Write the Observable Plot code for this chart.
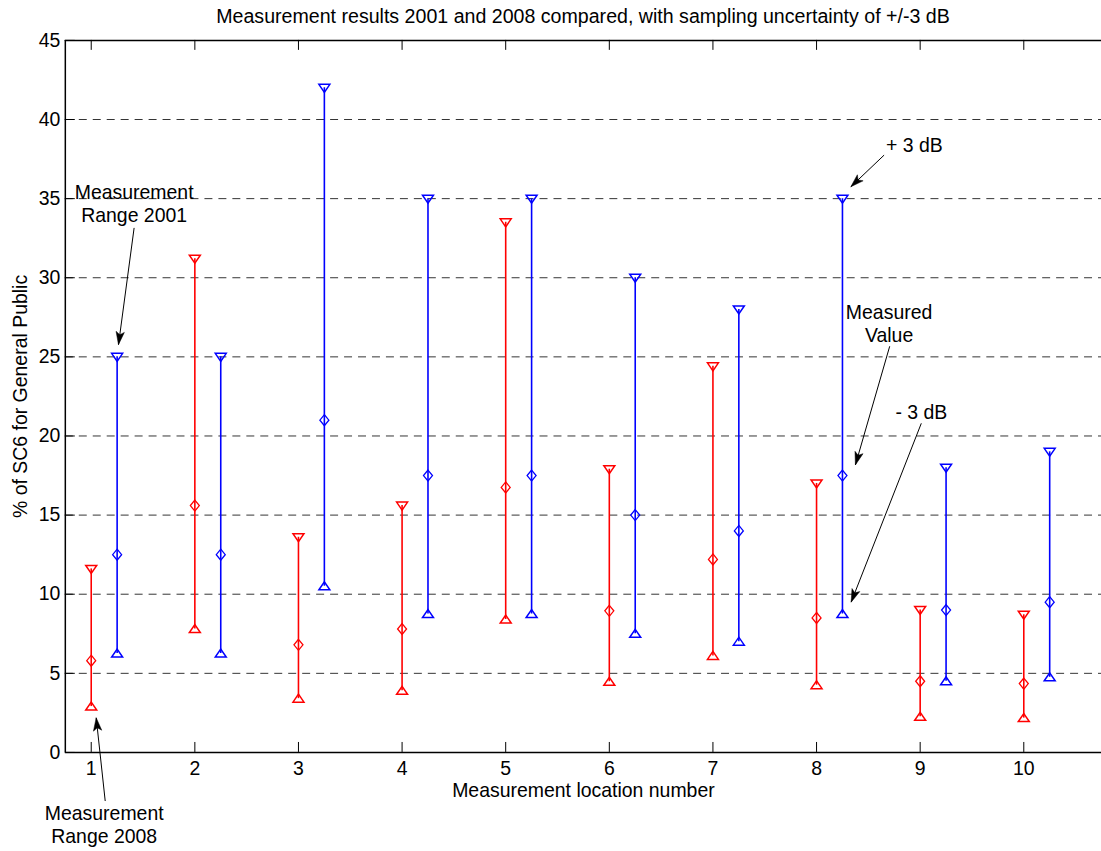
<!DOCTYPE html>
<html><head><meta charset="utf-8">
<script src="https://cdn.jsdelivr.net/npm/d3@7"></script>
<script src="https://cdn.jsdelivr.net/npm/@observablehq/plot@0.6"></script>
<style>
html,body{margin:0;padding:0;background:#fff;overflow:hidden;width:1101px;height:851px;}
#wrap{position:relative;width:1101px;height:851px;overflow:hidden;background:#fff;}
#chart{position:absolute;left:0;top:0;}
#title{position:absolute;left:0;top:4px;width:1166px;text-align:center;font-family:"Liberation Sans",Arial,sans-serif;font-size:19.6px;line-height:24px;color:#000;white-space:nowrap;}
</style></head><body>
<div id="wrap"><div id="chart"></div><div id="title">Measurement results 2001 and 2008 compared, with sampling uncertainty of +/-3 dB</div></div>
<script>
// ---- data ----
const locations = [1, 2, 3, 4, 5, 6, 7, 8, 9, 10];
const measured2008 = [5.8, 15.6, 6.8, 7.8, 16.75, 8.95, 12.2, 8.5, 4.5, 4.35];
const upper2008    = [11.6, 31.2, 13.6, 15.6, 33.5, 17.9, 24.4, 17.0, 9.0, 8.7];
const lower2008    = [2.9, 7.8, 3.4, 3.9, 8.4, 4.47, 6.1, 4.25, 2.25, 2.17];
const measured2001 = [12.5, 12.5, 21, 17.5, 17.5, 15, 14, 17.5, 9, 9.5];
const upper2001    = [25, 25, 42, 35, 35, 30, 28, 35, 18, 19];
const lower2001    = [6.25, 6.25, 10.5, 8.75, 8.75, 7.5, 7, 8.75, 4.5, 4.75];
const seriesNames  = ["2008", "2001"];
const seriesColors = ["#ff0000", "#0000ff"];
const xTickValues  = [1, 2, 3, 4, 5, 6, 7, 8, 9, 10];
const yTickValues  = [0, 5, 10, 15, 20, 25, 30, 35, 40, 45];
const titleText  = "Measurement results 2001 and 2008 compared, with sampling uncertainty of +/-3 dB";
const xLabelText = "Measurement location number";
const yLabelText = "% of SC6 for General Public";
// annotations: text, text position, arrow tail, arrow tip (data units)
const annoTexts  = ["Measurement\nRange 2001", "Measurement\nRange 2008", "+ 3 dB", "Measured\nValue", "- 3 dB"];
const annoTextX  = [1.414, 1.125, 8.944, 8.70, 9.011];
const annoTextY  = [34.69, -4.54, 38.38, 27.14, 21.53];
const arrowX1 = [1.414, 1.135, 8.652, 8.706, 9.011];
const arrowY1 = [33.15, -3.07, 37.75, 25.67, 20.80];
const arrowX2 = [1.263, 1.048, 8.331, 8.375, 8.334];
const arrowY2 = [25.77, 2.19, 35.75, 18.17, 9.50];

// ---- layout ----
const W = 1104, H = 851, mL = 65, mR = 0, mT = 40, mB = 97;
const xDomain = [0.75, 10.75], yDomain = [0, 45];
const shift = {"2008": 0, "2001": 0.25};
const font = '"Liberation Sans", Arial, Helvetica, sans-serif';
const fs = 19.5;

const rows = [];
locations.forEach((loc, i) => {
  rows.push({series: "2008", pos: loc + shift["2008"], low: lower2008[i], mid: measured2008[i], high: upper2008[i]});
  rows.push({series: "2001", pos: loc + shift["2001"], low: lower2001[i], mid: measured2001[i], high: upper2001[i]});
});

const triDown = {draw(c) { c.moveTo(-5.5, -3.5); c.lineTo(5.5, -3.5); c.lineTo(0, 4.5); c.closePath(); }};
const triUp   = {draw(c) { c.moveTo(-5.5, 3.5); c.lineTo(5.5, 3.5); c.lineTo(0, -4.5); c.closePath(); }};
const diamond = {draw(c) { c.moveTo(0, -5.5); c.lineTo(4.5, 0); c.lineTo(0, 5.5); c.lineTo(-4.5, 0); c.closePath(); }};

const px = d3.scaleLinear(xDomain, [mL, W - mR]);
const py = d3.scaleLinear(yDomain, [H - mB, mT]);

const annos = annoTexts.map((t, i) => ({t, x: annoTextX[i], y: annoTextY[i], x1: arrowX1[i], y1: arrowY1[i], x2: arrowX2[i], y2: arrowY2[i]}));

function headSymbol(a) {
  const dx = px(a.x2) - px(a.x1), dy = py(a.y2) - py(a.y1);
  const len = Math.hypot(dx, dy), ux = dx / len, uy = dy / len; // direction tail->tip
  const nx = -uy, ny = ux;
  const L = 13, Wd = 4.2, N = 10;
  return {draw(c) {
    c.moveTo(0, 0);
    c.lineTo(-ux * L + nx * Wd, -uy * L + ny * Wd);
    c.lineTo(-ux * N, -uy * N);
    c.lineTo(-ux * L - nx * Wd, -uy * L - ny * Wd);
    c.closePath();
  }};
}

const gridVals = yTickValues.filter(v => v > yDomain[0] && v < yDomain[1]);
const xTickRows = xTickValues.map(v => ({v, lo: yDomain[0], hi: yDomain[1]}));
const yTickRows = yTickValues.map(v => ({v, lo: xDomain[0]}));

const marks = [
  Plot.ruleY(gridVals, {stroke: "#000", strokeOpacity: 0.8, strokeWidth: 1, strokeDasharray: "8,6"}),
  Plot.ruleX(rows, {x: "pos", y1: "low", y2: "high", stroke: "series", strokeWidth: 1.6}),
  Plot.dot(rows, {x: "pos", y: "high", symbol: triDown, stroke: "series", fill: "none", strokeWidth: 1.5, r: 5}),
  Plot.dot(rows, {x: "pos", y: "low", symbol: triUp, stroke: "series", fill: "none", strokeWidth: 1.5, r: 5}),
  Plot.dot(rows, {x: "pos", y: "mid", symbol: diamond, stroke: "series", fill: "none", strokeWidth: 1.3, r: 5}),
  // box
  Plot.ruleY([yDomain[0], yDomain[1]], {stroke: "#000", strokeWidth: 1.5}),
  Plot.ruleX([xDomain[0]], {stroke: "#000", strokeWidth: 1.5}),
  // inward ticks
  Plot.ruleX(xTickRows, {x: "v", y1: "lo", y2: "lo", insetTop: -10, stroke: "#000", strokeWidth: 1}),
  Plot.ruleX(xTickRows, {x: "v", y1: "hi", y2: "hi", insetBottom: -10, stroke: "#000", strokeWidth: 1}),
  Plot.ruleY(yTickRows, {y: "v", x1: "lo", x2: "lo", insetRight: -10, stroke: "#000", strokeWidth: 1}),
  // axis labels
  Plot.text([xLabelText], {text: d => d, frameAnchor: "bottom", dy: 38, lineAnchor: "middle", fontSize: fs, fill: "#000"}),
  Plot.text([yLabelText], {text: d => d, frameAnchor: "left", rotate: -90, dx: -45, textAnchor: "middle", lineAnchor: "middle", fontSize: fs, fill: "#000"}),
  // annotations
  Plot.link(annos, {x1: "x1", y1: "y1", x2: "x2", y2: "y2", stroke: "#000", strokeWidth: 1}),
  ...annos.map(a => Plot.dot([a], {x: "x2", y: "y2", symbol: headSymbol(a), fill: "#000", stroke: "#000", strokeWidth: 0.5, r: 5})),
  Plot.text(annos, {x: "x", y: "y", text: "t", fontSize: fs, fill: "#000", lineHeight: 1.18, lineAnchor: "middle"})
];

const chart = Plot.plot({
  width: W, height: H, marginLeft: mL, marginRight: mR, marginTop: mT, marginBottom: mB,
  x: {domain: xDomain, ticks: xTickValues, tickSize: 0, tickPadding: 9, label: null},
  y: {domain: yDomain, ticks: yTickValues, tickSize: 0, tickPadding: 5, label: null},
  color: {domain: seriesNames, range: seriesColors},
  style: {fontFamily: font, fontSize: fs + "px", color: "#000", background: "#fff", overflow: "visible"},
  marks
});
document.getElementById("chart").appendChild(chart);
document.getElementById("title").textContent = titleText;
</script></body></html>
